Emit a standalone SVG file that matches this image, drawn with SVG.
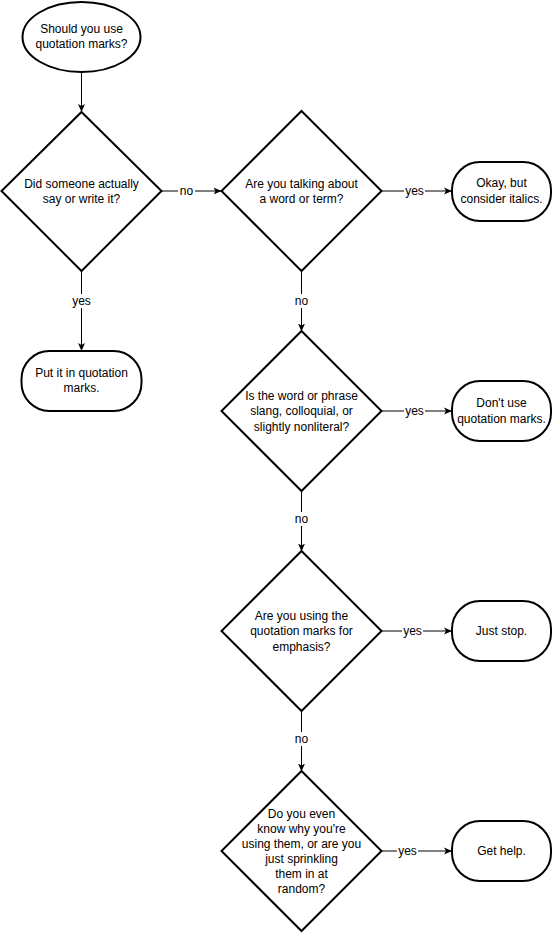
<svg xmlns="http://www.w3.org/2000/svg" width="553" height="935" viewBox="0 0 553 935">
<style>
.shape{fill:#fff;stroke:#000;stroke-width:2}
.edge{fill:none;stroke:#000;stroke-width:1;marker-end:url(#arr)}
text{font-family:"Liberation Sans",Arial,sans-serif;font-size:12px;fill:#000;text-anchor:middle}
.lblbg{fill:#fff}
</style>
<defs>
<marker id="arr" viewBox="0 0 8 8" refX="8" refY="4" markerWidth="8" markerHeight="8" markerUnits="userSpaceOnUse" orient="auto">
<path d="M0,0.5 L8,4 L0,7.5 L2,4 Z" fill="#000"/>
</marker>
</defs>
<g id="connectors">
<path class="edge" d="M81.5,72 L81.5,112"/>
<path class="edge" d="M161.5,191 L221.5,191"/>
<path class="edge" d="M381.5,191 L452,191"/>
<path class="edge" d="M81.5,271 L81.5,351"/>
<path class="edge" d="M301.5,271 L301.5,331.5"/>
<path class="edge" d="M381.5,411 L452,411"/>
<path class="edge" d="M301.5,491 L301.5,551.5"/>
<path class="edge" d="M381.5,631 L452,631"/>
<path class="edge" d="M301.5,711 L301.5,771.5"/>
<path class="edge" d="M381.5,851 L452,851"/>
<rect class="lblbg" x="178" y="184" width="17" height="14"/>
<text x="186.5" y="195">no</text>
<rect class="lblbg" x="404" y="184" width="21" height="14"/>
<text x="414.5" y="195">yes</text>
<rect class="lblbg" x="71" y="294" width="21" height="14"/>
<text x="81.5" y="305">yes</text>
<rect class="lblbg" x="293" y="294" width="17" height="14"/>
<text x="301.5" y="305">no</text>
<rect class="lblbg" x="404" y="404" width="21" height="14"/>
<text x="414.5" y="415">yes</text>
<rect class="lblbg" x="293" y="512" width="17" height="14"/>
<text x="301.5" y="523">no</text>
<rect class="lblbg" x="402" y="624" width="21" height="14"/>
<text x="412.5" y="635">yes</text>
<rect class="lblbg" x="293" y="732" width="17" height="14"/>
<text x="301.5" y="743">no</text>
<rect class="lblbg" x="397" y="844" width="21" height="14"/>
<text x="407.5" y="855">yes</text>
</g>
<g id="start">
<ellipse class="shape" cx="81.5" cy="37" rx="59" ry="35"/>
<text x="81.5" y="32.5">Should you use</text>
<text x="81.5" y="47.5">quotation marks?</text>
</g>
<g id="q1">
<path class="shape" d="M81.5,112 L161.5,191 L81.5,271 L1.5,191 Z"/>
<text x="81.5" y="187.5">Did someone actually</text>
<text x="81.5" y="203">say or write it?</text>
</g>
<g id="q2">
<path class="shape" d="M301.5,111 L381.5,191 L301.5,271 L221.5,191 Z"/>
<text x="301.5" y="187.5">Are you talking about</text>
<text x="301.5" y="203">a word or term?</text>
</g>
<g id="r1">
<rect class="shape" x="452" y="162" width="99" height="59" rx="28" ry="28"/>
<text x="501.5" y="187">Okay, but</text>
<text x="501.5" y="202.5">consider italics.</text>
</g>
<g id="r0">
<rect class="shape" x="21.5" y="351" width="120" height="60" rx="28" ry="28"/>
<text x="81.5" y="377">Put it in quotation</text>
<text x="81.5" y="392">marks.</text>
</g>
<g id="q3">
<path class="shape" d="M301.5,331 L381.5,411 L301.5,491 L221.5,411 Z"/>
<text x="301.5" y="399.5">Is the word or phrase</text>
<text x="301.5" y="415">slang, colloquial, or</text>
<text x="301.5" y="430.5">slightly nonliteral?</text>
</g>
<g id="r2">
<rect class="shape" x="452" y="381" width="99" height="60" rx="28" ry="28"/>
<text x="501.5" y="407">Don't use</text>
<text x="501.5" y="423">quotation marks.</text>
</g>
<g id="q4">
<path class="shape" d="M301.5,551 L381.5,631 L301.5,711 L221.5,631 Z"/>
<text x="301.5" y="619.5">Are you using the</text>
<text x="301.5" y="635">quotation marks for</text>
<text x="301.5" y="650.5">emphasis?</text>
</g>
<g id="r3">
<rect class="shape" x="452" y="601" width="99" height="60" rx="28" ry="28"/>
<text x="501.5" y="635">Just stop.</text>
</g>
<g id="q5">
<path class="shape" d="M301.5,771 L381.5,851 L301.5,931 L221.5,851 Z"/>
<text x="301.5" y="817.5">Do you even</text>
<text x="301.5" y="832.5">know why you're</text>
<text x="301.5" y="847.5">using them, or are you</text>
<text x="301.5" y="862.5">just sprinkling</text>
<text x="301.5" y="877.5">them in at</text>
<text x="301.5" y="892.5">random?</text>
</g>
<g id="r4">
<rect class="shape" x="452" y="821" width="99" height="60" rx="28" ry="28"/>
<text x="501.5" y="855">Get help.</text>
</g>
</svg>
